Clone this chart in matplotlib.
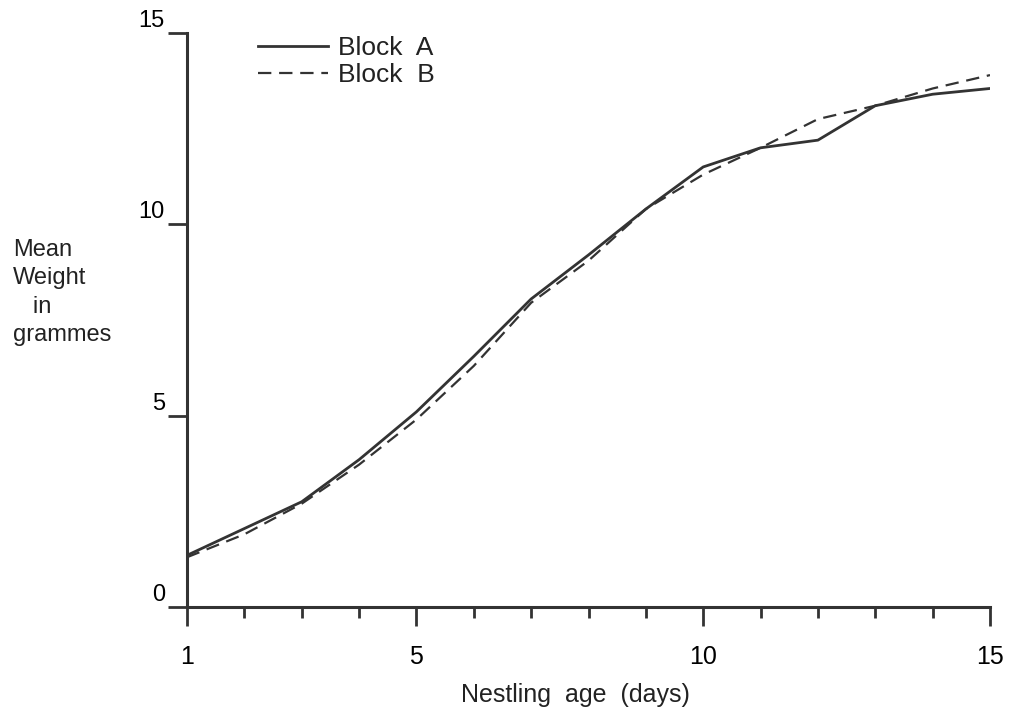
import matplotlib.pyplot as plt
import matplotlib.transforms as mtransforms
import numpy as np

plt.rcParams['font.family'] = ['Liberation Sans', 'DejaVu Sans']

# nestling age (days) and mean weight (g)
days = [1, 2, 3, 4, 5, 6, 7, 8, 9, 10, 11, 12, 13, 14, 15]
block_a = [1.35, 2.05, 2.75, 3.85, 5.1, 6.55, 8.05, 9.2, 10.4, 11.5, 12.0, 12.2, 13.1, 13.4, 13.55]
block_b = [1.3, 1.9, 2.7, 3.72, 4.9, 6.3, 7.95, 9.05, 10.4, 11.3, 12.0, 12.75, 13.1, 13.55, 13.9]
x_major = [1, 5, 10, 15]
y_major = [0, 5, 10, 15]

col = '#333333'

fig = plt.figure(figsize=(10.09, 7.09), dpi=100)
ax = fig.add_axes([187/1009, 1-607/709, (990-187)/1009, (607-33)/709])

ax.plot(days, block_a, color=col, lw=2.0, label='Block  A')
ax.plot(days, block_b, color=col, lw=1.6, ls=(0, (6, 3.5)), label='Block  B')

ax.set_xlim(1, 15)
ax.set_ylim(0, 15)
for s in ['top', 'right']:
    ax.spines[s].set_visible(False)
for s in ['left', 'bottom']:
    ax.spines[s].set_linewidth(2.2)
    ax.spines[s].set_color(col)

ax.set_xticks(x_major)
ax.set_xticks(days, minor=True)
ax.tick_params(axis='x', which='major', length=14, width=2, color=col, labelsize=18, pad=13)
ax.tick_params(axis='x', which='minor', length=8, width=2, color=col)
ax.set_yticks(y_major)
ax.set_yticklabels([str(v) for v in y_major])
ax.tick_params(axis='y', length=14, width=2, color=col, labelsize=17, pad=2)
# y labels sit just above their ticks
off = mtransforms.ScaledTranslation(0, 1/100, fig.dpi_scale_trans)
for lab in ax.get_yticklabels():
    lab.set_va('bottom')
    lab.set_transform(lab.get_transform() + off)

fig.text(575/1009, 1-702/709, 'Nestling  age  (days)', fontsize=18,
         ha='center', va='baseline', color='#222222')
fig.text(13/1009, 1-239/709, 'Mean\nWeight\n   in\ngrammes', fontsize=17,
         va='top', ha='left', linespacing=1.38, color='#222222')

ax.legend(loc='upper left', bbox_to_anchor=(0.088, 0.995), frameon=False,
          fontsize=19, handlelength=2.65, handletextpad=0.38, labelspacing=0.12,
          borderpad=0, borderaxespad=0, labelcolor='#222222')

fig.savefig('out.png', dpi=100)
